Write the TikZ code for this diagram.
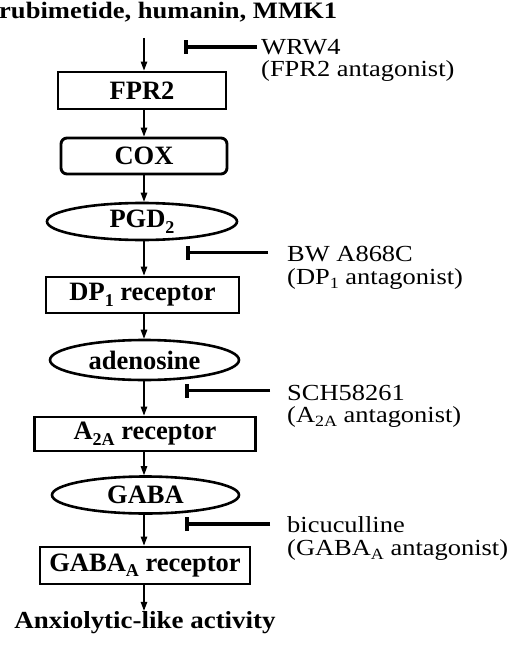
\documentclass[tikz,border=0pt]{standalone}
\usepackage{fontspec}
\setmainfont{Liberation Serif}
\usepackage{graphicx}
\usetikzlibrary{arrows.meta,shapes.geometric}
\newcommand\lo[1]{\raisebox{-0.45ex}{\scalebox{0.68}{#1}}}
\newcommand\wide[1]{\scalebox{1.15}[1]{#1}}
\newcommand\wider[1]{\scalebox{1.13}[1]{#1}}
\begin{document}
\begin{tikzpicture}[x=1pt,y=-1pt,
  every node/.style={inner sep=0pt},
  box/.style={draw, line width=2.9pt, font=\fontsize{26.5}{28}\selectfont\bfseries},
  rbox/.style={box, rounded corners=6pt},
  ell/.style={box, ellipse, line width=2.6pt},
  arr/.style={line width=1.2pt, -{Triangle[length=9pt,width=6.5pt]}},
  inh/.style={line width=3.5pt, -{Bar[width=14pt]}},
  lbl/.style={font=\fontsize{23}{25}\selectfont, anchor=base west},
  ttl/.style={font=\fontsize{23.5}{25}\selectfont\bfseries},
]
\useasboundingbox (0,0) rectangle (520,650);
\coordinate (axis) at (144,0);

% title
\node[ttl, anchor=base west] (title) at (-1,19) {\wider{rubimetide, humanin, MMK1}};

% pathway
\node[box, minimum width=168pt, minimum height=37pt] (fpr2) at (142,90.5) {FPR2};
\node[rbox, minimum width=166pt, minimum height=36pt] (cox) at (144,156) {COX};
\node[ell, minimum width=190pt, minimum height=37pt] (pgd) at (142,221.5) {PGD\lo{2}};
\node[box, minimum width=193pt, minimum height=36pt] (dp1) at (142.5,295) {DP\lo{1} receptor};
\node[ell, minimum width=189pt, minimum height=40pt] (aden) at (144.5,360) {adenosine};
\node[box, minimum width=221pt, minimum height=34pt] (a2a) at (145,434) {A\lo{2A} receptor};
\node[ell, minimum width=187pt, minimum height=37pt] (gaba) at (145.5,495) {GABA};
\node[box, minimum width=210pt, minimum height=37pt] (gabaa) at (145,565.5) {GABA\lo{A} receptor};
\node[ttl, font=\fontsize{24.5}{26}\selectfont\bfseries, anchor=base] (anx) at (145,628) {\scalebox{1.1}[1]{Anxiolytic-like activity}};

% arrows
\coordinate (s0) at (144,38);
\draw[arr] (s0) -- (fpr2.north -| axis);
\draw[arr] (fpr2.south -| axis) -- (cox.north -| axis);
\draw[arr] (cox.south -| axis) -- (pgd.north -| axis);
\draw[arr] (pgd.south -| axis) -- (dp1.north -| axis);
\draw[arr] (dp1.south -| axis) -- (aden.north -| axis);
\draw[arr] (aden.south -| axis) -- (a2a.north -| axis);
\draw[arr] (a2a.south -| axis) -- (gaba.north -| axis);
\draw[arr] (gaba.south -| axis) -- (gabaa.north -| axis);
\draw[arr] (gabaa.south -| axis) -- (anx.north -| axis);

% antagonists
\node[lbl] (wrw) at (261,55) {\wide{WRW4}};
\node[lbl] (wrwb) at (261,77) {\wide{(FPR2 antagonist)}};
\coordinate (wrwe) at (257,47);
\coordinate (wrwt) at (184,47);
\draw[inh] (wrwe) -- (wrwt);

\node[lbl] (bw) at (287,261.5) {\wide{BW A868C}};
\node[lbl] (bwb) at (287,284) {\wide{(DP\lo{1} antagonist)}};
\coordinate (bwe) at (268,252.7);
\coordinate (bwt) at (186,252.7);
\draw[inh] (bwe) -- (bwt);

\node[lbl] (sch) at (287,400) {\wide{SCH58261}};
\node[lbl] (schb) at (287,422) {\wide{(A\lo{2A} antagonist)}};
\coordinate (sche) at (270,390.7);
\coordinate (scht) at (185,390.7);
\draw[inh] (sche) -- (scht);

\node[lbl] (bic) at (287,532.5) {\wide{bicuculline}};
\node[lbl] (bicb) at (287,555) {\wide{(GABA\lo{A} antagonist)}};
\coordinate (bice) at (270,524);
\coordinate (bict) at (185,524);
\draw[inh] (bice) -- (bict);
\end{tikzpicture}
\end{document}
